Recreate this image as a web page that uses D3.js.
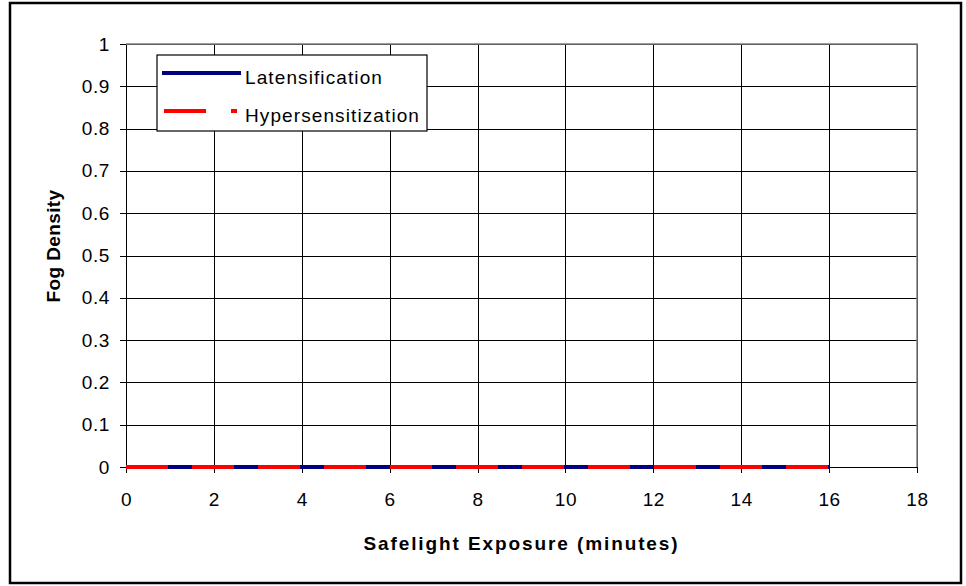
<!DOCTYPE html>
<html>
  <head>
    <title>Fog density vs safelight exposure</title>
    <script src="https://d3js.org/d3.v7.min.js"></script>
    <style type="text/css">
      body { margin: 0; background: #fff; }
      text { font-family: "Liberation Sans", Arial, sans-serif; fill: #000; }
      .axis path, .axis line { stroke: #000; shape-rendering: crispEdges; }
      .grid line { stroke: #000; shape-rendering: crispEdges; }
      .grid path { display: none; }
    </style>
  </head>
  <body>
    <script>
      // Data: both series sit flat on zero
      var exposure = [0, 2, 4, 8, 16];
      var latensification = [0, 0, 0, 0, 0];
      var hypersensitization = [0, 0, 0, 0, 0];
      var xTicks = [0, 2, 4, 6, 8, 10, 12, 14, 16, 18];
      var yTicks = [0, 0.1, 0.2, 0.3, 0.4, 0.5, 0.6, 0.7, 0.8, 0.9, 1];
      var seriesNames = ["Latensification", "Hypersensitization"];

      var svgWidth = 966;
      var svgHeight = 586;
      var plotLeft = 126;
      var plotRight = 917;
      var plotTop = 44;
      var plotBottom = 467;

      var svg = d3.select("body")
                  .append("svg")
                  .attr("width", svgWidth)
                  .attr("height", svgHeight);

      // outer chart border
      svg.append("rect")
         .attr("x", 10)
         .attr("y", 3)
         .attr("width", 951)
         .attr("height", 580)
         .attr("fill", "#fff")
         .attr("stroke", "#000")
         .attr("stroke-width", 2.5);

      var xScale = d3.scaleLinear().domain([0, 18]).range([plotLeft, plotRight]);
      var yScale = d3.scaleLinear().domain([0, 1]).range([plotBottom, plotTop]);

      // gridlines
      svg.append("g")
         .attr("class", "grid")
         .attr("transform", "translate(0," + plotBottom + ")")
         .call(d3.axisBottom(xScale).tickValues(xTicks).tickSize(-(plotBottom - plotTop)).tickFormat(""));

      svg.append("g")
         .attr("class", "grid")
         .attr("transform", "translate(" + plotLeft + ",0)")
         .call(d3.axisLeft(yScale).tickValues(yTicks).tickSize(-(plotRight - plotLeft)).tickFormat(""));

      // grey plot frame on top and right
      svg.append("path")
         .attr("d", "M" + plotLeft + "," + plotTop + "H" + plotRight + "V" + plotBottom)
         .attr("fill", "none")
         .attr("stroke", "#808080")
         .attr("stroke-width", 1.5);

      // axes
      svg.append("g")
         .attr("class", "axis")
         .attr("transform", "translate(0," + plotBottom + ")")
         .call(d3.axisBottom(xScale).tickValues(xTicks).tickSize(6).tickSizeOuter(0).tickPadding(20).tickFormat(d3.format("d")));

      svg.append("g")
         .attr("class", "axis")
         .attr("transform", "translate(" + plotLeft + ",0)")
         .call(d3.axisLeft(yScale).tickValues(yTicks).tickSize(6).tickSizeOuter(0).tickPadding(10).tickFormat(function(d) { return d3.format("")(+d.toFixed(1)); }));

      svg.selectAll(".axis text")
         .attr("font-size", "19px")
         .attr("font-family", "'Liberation Sans', Arial, sans-serif")
         .style("letter-spacing", "0.6px");

      // series lines
      var line = d3.line()
                   .x(function(d, i) { return xScale(exposure[i]); })
                   .y(function(d) { return yScale(d); });

      svg.append("path")
         .datum(latensification)
         .attr("d", line)
         .attr("fill", "none")
         .attr("stroke", "#000080")
         .attr("stroke-width", 4);

      svg.append("path")
         .datum(hypersensitization)
         .attr("d", line)
         .attr("fill", "none")
         .attr("stroke", "#ff0000")
         .attr("stroke-width", 4)
         .attr("stroke-dasharray", "42,24");

      // legend
      var legend = svg.append("g");
      legend.append("rect")
            .attr("x", 157)
            .attr("y", 55)
            .attr("width", 270)
            .attr("height", 76)
            .attr("fill", "#fff")
            .attr("stroke", "#000")
            .attr("stroke-width", 1.2);

      legend.append("line")
            .attr("x1", 162).attr("x2", 241)
            .attr("y1", 73).attr("y2", 73)
            .attr("stroke", "#000080")
            .attr("stroke-width", 4);

      legend.append("line")
            .attr("x1", 164).attr("x2", 237)
            .attr("y1", 111).attr("y2", 111)
            .attr("stroke", "#ff0000")
            .attr("stroke-width", 4)
            .attr("stroke-dasharray", "42,25");

      legend.selectAll("text.leg")
            .data(seriesNames)
            .enter()
            .append("text")
            .attr("class", "leg")
            .attr("x", 245)
            .attr("y", function(d, i) { return 84 + i * 38; })
            .attr("font-size", "19px")
            .style("letter-spacing", "1.1px")
            .text(function(d) { return d; });

      // axis titles
      svg.append("text")
         .attr("x", (plotLeft + plotRight) / 2)
         .attr("y", 550)
         .attr("text-anchor", "middle")
         .attr("font-size", "19px")
         .attr("font-weight", "bold")
         .style("letter-spacing", "1.9px")
         .text("Safelight Exposure (minutes)");

      svg.append("text")
         .attr("transform", "translate(60," + 246 + ") rotate(-90)")
         .attr("text-anchor", "middle")
         .attr("font-size", "19px")
         .attr("font-weight", "bold")
         .style("letter-spacing", "0.4px")
         .text("Fog Density");
    </script>
  </body>
</html>
